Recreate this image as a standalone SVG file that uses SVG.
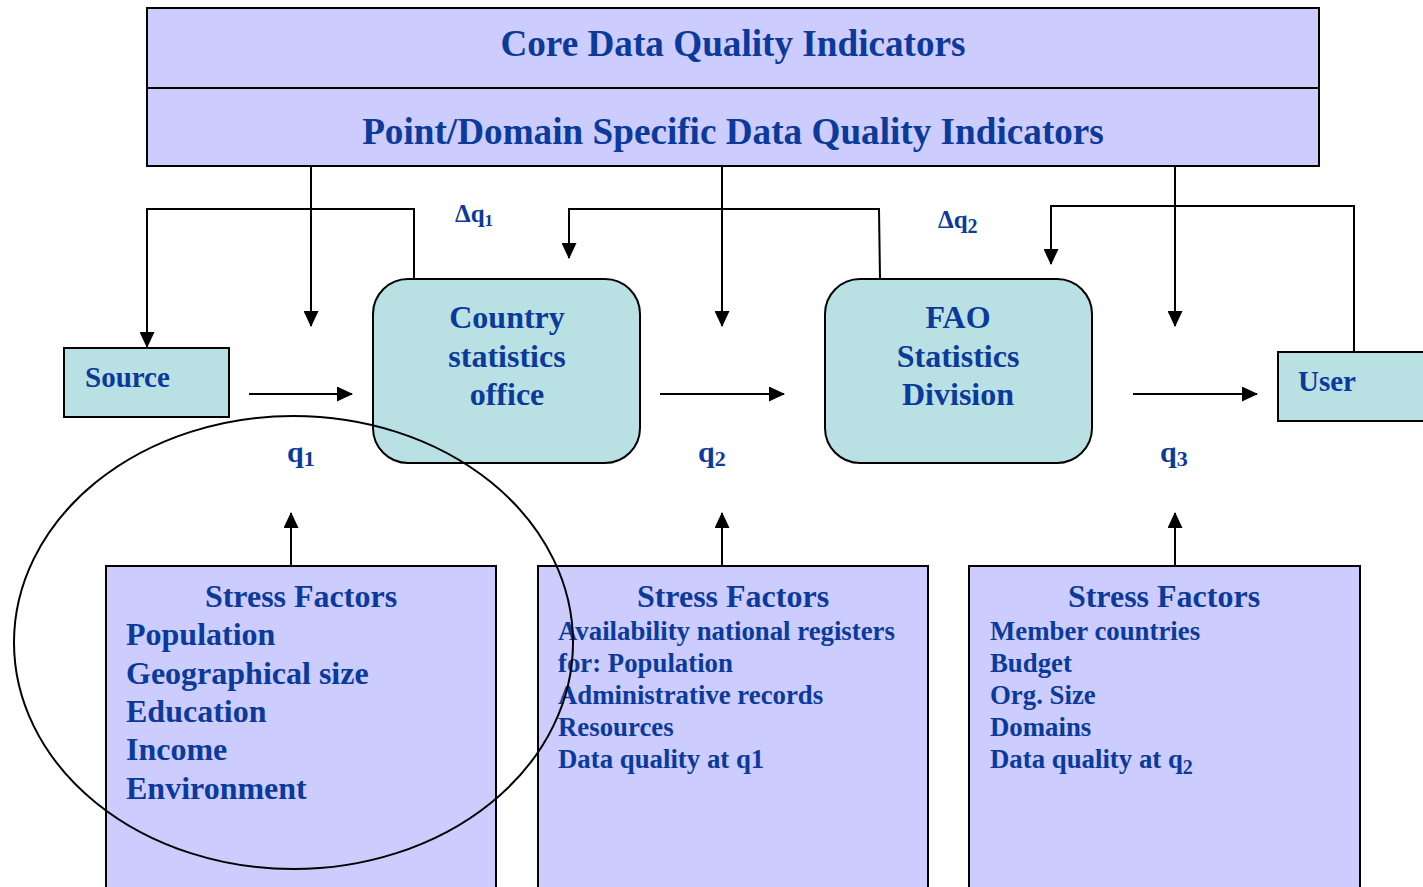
<svg xmlns="http://www.w3.org/2000/svg" width="1423" height="887" viewBox="0 0 1423 887">
<defs>
<marker id="ah" markerWidth="16" markerHeight="15" refX="15" refY="7.5" orient="auto" markerUnits="userSpaceOnUse">
<path d="M0,0 L16,7.5 L0,15 Z" fill="#000"/>
</marker>
<style>
text{font-family:"Liberation Serif","Times New Roman",serif;font-weight:bold;fill:#0b3a9a}
.hdr{font-size:37.2px}
.node{fill:#b9e0e3;stroke:#000;stroke-width:2}
.sf{fill:#ccccff;stroke:#000;stroke-width:2}
.con{fill:none;stroke:#000;stroke-width:2}
.big{font-size:32px}
.mid{font-size:29px}
.sm{font-size:26.8px}
.q{font-size:30px}
.dq{font-size:25px}
</style>
</defs>
<rect width="1423" height="887" fill="#fff"/>
<g id="indicators">
<rect x="147" y="8" width="1172" height="158" class="sf"/>
<line x1="147" y1="88" x2="1319" y2="88" stroke="#000" stroke-width="2"/>
<text class="hdr" x="733" y="56" text-anchor="middle">Core Data Quality Indicators</text>
<text class="hdr" x="733" y="144" text-anchor="middle">Point/Domain Specific Data Quality Indicators</text>
</g>
<g id="source">
<rect x="64" y="348" width="165" height="69" class="node"/>
<text class="mid" x="85" y="387">Source</text>
</g>
<g id="country">
<rect x="373" y="279" width="267" height="184" rx="35" class="node"/>
<text class="big" x="507" y="328" text-anchor="middle">Country</text>
<text class="big" x="507" y="367" text-anchor="middle">statistics</text>
<text class="big" x="507" y="405" text-anchor="middle">office</text>
</g>
<g id="fao">
<rect x="825" y="279" width="267" height="184" rx="35" class="node"/>
<text class="big" x="958" y="328" text-anchor="middle">FAO</text>
<text class="big" x="958" y="367" text-anchor="middle">Statistics</text>
<text class="big" x="958" y="405" text-anchor="middle">Division</text>
</g>
<g id="user">
<rect x="1278" y="352" width="150" height="69" class="node"/>
<text class="mid" x="1298" y="391">User</text>
</g>
<g id="stress1">
<rect x="106" y="566" width="390" height="330" class="sf"/>
<text class="big" x="301" y="607" text-anchor="middle">Stress Factors</text>
<text class="big" x="126" y="645">Population</text>
<text class="big" x="126" y="684">Geographical size</text>
<text class="big" x="126" y="722">Education</text>
<text class="big" x="126" y="760">Income</text>
<text class="big" x="126" y="799">Environment</text>
</g>
<g id="stress2">
<rect x="538" y="566" width="390" height="330" class="sf"/>
<text class="big" x="733" y="607" text-anchor="middle">Stress Factors</text>
<text class="sm" x="558" y="640">Availability national registers</text>
<text class="sm" x="558" y="672">for: Population</text>
<text class="sm" x="558" y="704">Administrative records</text>
<text class="sm" x="558" y="736">Resources</text>
<text class="sm" x="558" y="768">Data quality at q1</text>
</g>
<g id="stress3">
<rect x="969" y="566" width="391" height="330" class="sf"/>
<text class="big" x="1164" y="607" text-anchor="middle">Stress Factors</text>
<text class="sm" x="990" y="640">Member countries</text>
<text class="sm" x="990" y="672">Budget</text>
<text class="sm" x="990" y="704">Org. Size</text>
<text class="sm" x="990" y="736">Domains</text>
<text class="sm" x="990" y="768">Data quality at q<tspan font-size="20" dy="6">2</tspan></text>
</g>
<g id="labels">
<text class="q" x="287" y="462">q<tspan font-size="22" dy="4">1</tspan></text>
<text class="q" x="698" y="462">q<tspan font-size="22" dy="4">2</tspan></text>
<text class="q" x="1160" y="462">q<tspan font-size="22" dy="4">3</tspan></text>
<text class="dq" x="455" y="222">Δq<tspan font-size="17" dy="4">1</tspan></text>
<text class="dq" x="938" y="228">Δq<tspan font-size="20" dy="5">2</tspan></text>
</g>
<g id="connectors">
<line x1="311" y1="166" x2="311" y2="326" class="con" marker-end="url(#ah)"/>
<line x1="722" y1="166" x2="722" y2="326" class="con" marker-end="url(#ah)"/>
<line x1="1175" y1="166" x2="1175" y2="326" class="con" marker-end="url(#ah)"/>
<polyline points="414,278 414,209 147,209 147,347" class="con" marker-end="url(#ah)"/>
<polyline points="880,278 879,209 569,209 569,258" class="con" marker-end="url(#ah)"/>
<polyline points="1354,351 1354,206 1051,206 1051,264" class="con" marker-end="url(#ah)"/>
<line x1="249" y1="394" x2="352" y2="394" class="con" marker-end="url(#ah)"/>
<line x1="660" y1="394" x2="784" y2="394" class="con" marker-end="url(#ah)"/>
<line x1="1133" y1="394" x2="1257" y2="394" class="con" marker-end="url(#ah)"/>
<line x1="291" y1="566" x2="291" y2="513" class="con" marker-end="url(#ah)"/>
<line x1="722" y1="566" x2="722" y2="513" class="con" marker-end="url(#ah)"/>
<line x1="1175" y1="566" x2="1175" y2="513" class="con" marker-end="url(#ah)"/>
</g>
<g id="highlight">
<ellipse cx="293.5" cy="642.5" rx="279.5" ry="226.5" fill="none" stroke="#000" stroke-width="2"/>
</g>
</svg>
